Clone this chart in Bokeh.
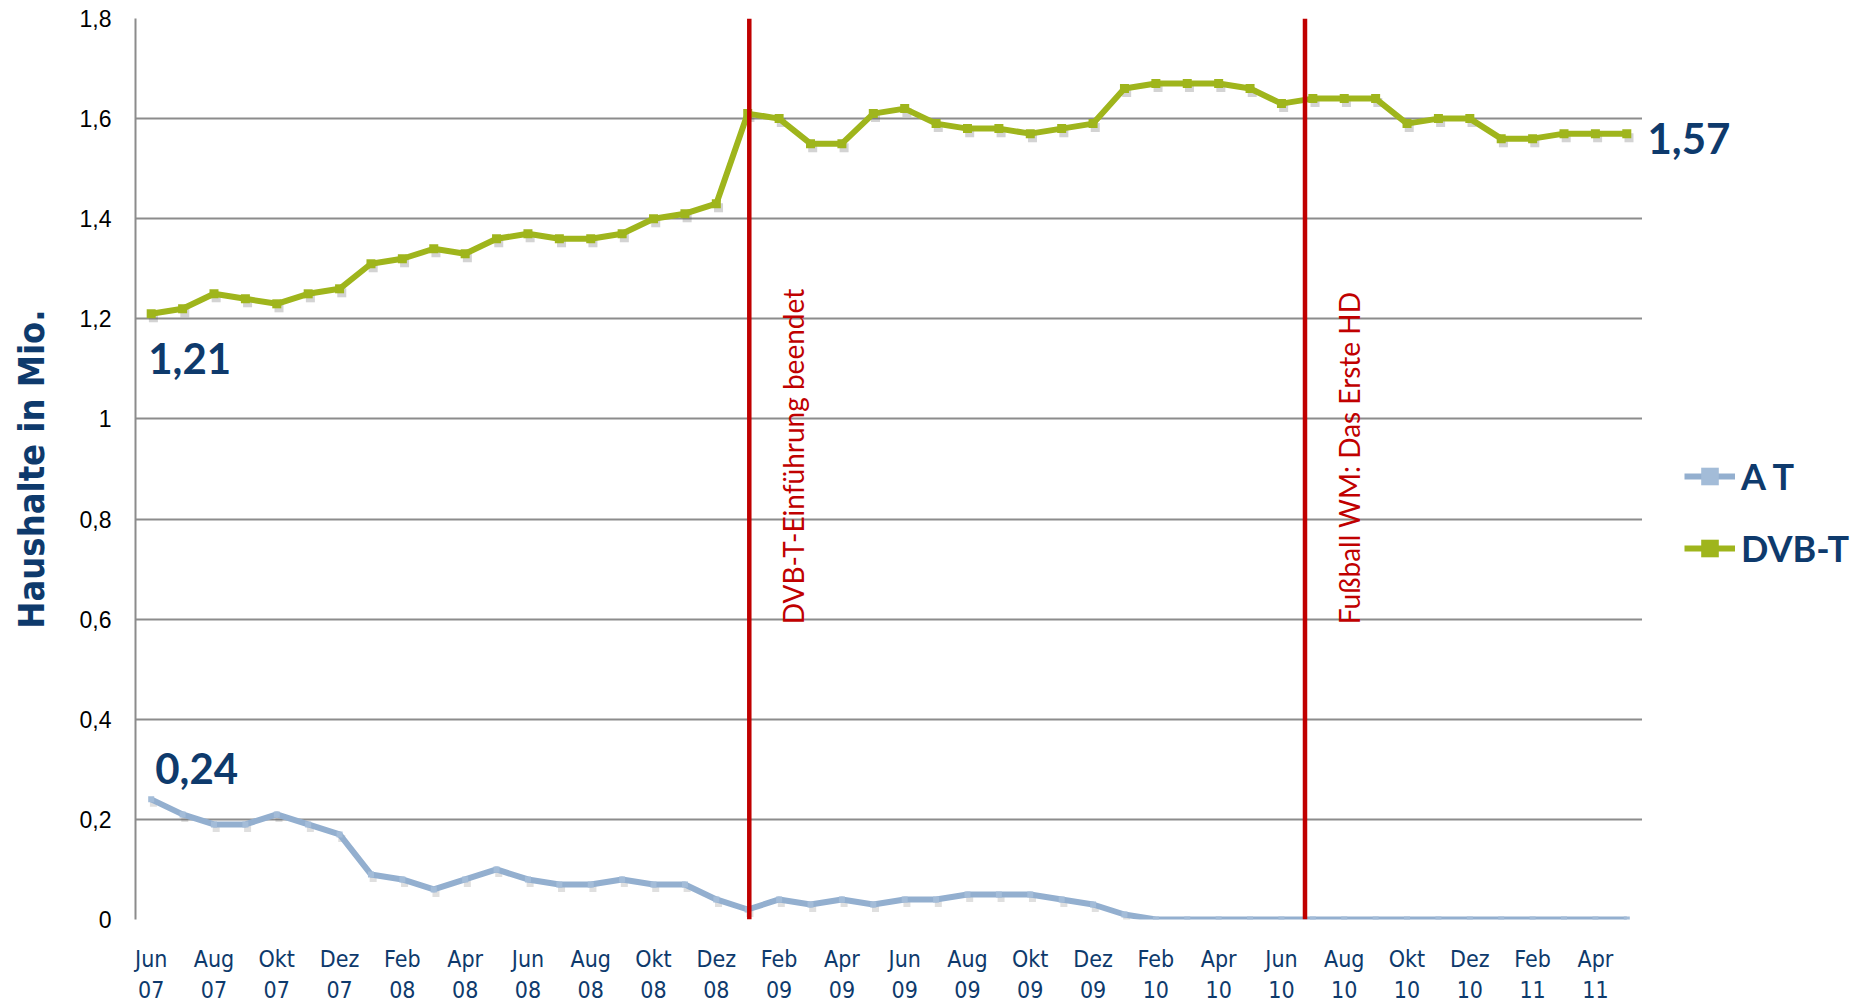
import math
from bokeh.plotting import figure
from bokeh.layouts import row
from bokeh.models import (Range1d, FixedTicker, Span, Label, Legend, LegendItem,
                          ColumnDataSource)
from bokeh.transform import dodge
from bokeh.embed import file_html
from bokeh.resources import INLINE

# ---------------- data ----------------
months = ["Jun 07", "Jul 07", "Aug 07", "Sep 07", "Okt 07", "Nov 07", "Dez 07",
          "Jan 08", "Feb 08", "Mär 08", "Apr 08", "Mai 08", "Jun 08", "Jul 08",
          "Aug 08", "Sep 08", "Okt 08", "Nov 08", "Dez 08",
          "Jan 09", "Feb 09", "Mär 09", "Apr 09", "Mai 09", "Jun 09", "Jul 09",
          "Aug 09", "Sep 09", "Okt 09", "Nov 09", "Dez 09",
          "Jan 10", "Feb 10", "Mär 10", "Apr 10", "Mai 10", "Jun 10", "Jul 10",
          "Aug 10", "Sep 10", "Okt 10", "Nov 10", "Dez 10",
          "Jan 11", "Feb 11", "Mär 11", "Apr 11", "Mai 11"]

dvbt = [1.21, 1.22, 1.25, 1.24, 1.23, 1.25, 1.26, 1.31, 1.32, 1.34, 1.33, 1.36,
        1.37, 1.36, 1.36, 1.37, 1.40, 1.41, 1.43, 1.61, 1.60, 1.55, 1.55, 1.61,
        1.62, 1.59, 1.58, 1.58, 1.57, 1.58, 1.59, 1.66, 1.67, 1.67, 1.67, 1.66,
        1.63, 1.64, 1.64, 1.64, 1.59, 1.60, 1.60, 1.56, 1.56, 1.57, 1.57, 1.57]

analog = [0.24, 0.21, 0.19, 0.19, 0.21, 0.19, 0.17, 0.09, 0.08, 0.06, 0.08, 0.10,
          0.08, 0.07, 0.07, 0.08, 0.07, 0.07, 0.04, 0.02, 0.04, 0.03, 0.04, 0.03,
          0.04, 0.04, 0.05, 0.05, 0.05, 0.04, 0.03, 0.01, 0.00, 0.00, 0.00, 0.00,
          0.00, 0.00, 0.00, 0.00, 0.00, 0.00, 0.00, 0.00, 0.00, 0.00, 0.00, 0.00]

series_names = ["A T", "DVB-T"]

y_ticks = [0, 0.2, 0.4, 0.6, 0.8, 1.0, 1.2, 1.4, 1.6, 1.8]
y_tick_labels = ["0", "0,2", "0,4", "0,6", "0,8", "1", "1,2", "1,4", "1,6", "1,8"]

event_texts = ["DVB-T-Einführung beendet", "Fußball WM: Das Erste HD"]
event_pos = [19.05, 36.75]   # month index

value_texts = ["1,21", "0,24", "1,57"]

# ---------------- styling ----------------
GREEN = "#9FB51C"
BLUE = "#93AFCF"
RED = "#C00000"
NAVY = "#0E3A6C"
GRID = "#8C8C8C"
NARROW = "'Liberation Sans Narrow', 'DejaVu Sans Condensed', sans-serif"
BOLDF = "Lato"

x = list(range(len(months)))
src = ColumnDataSource(dict(x=x, dvbt=dvbt, analog=analog))

TOP, FH, BOTTOM = 18, 901, 80
LEFT, FW, RIGHTW = 135, 1507, 224

p = figure(frame_width=FW, frame_height=FH,
           min_border_left=LEFT, min_border_right=0,
           min_border_top=TOP, min_border_bottom=BOTTOM,
           x_range=Range1d(-0.5, len(months) - 0.5), y_range=Range1d(0, 1.8),
           output_backend="svg", toolbar_location=None,
           background_fill_color="white", border_fill_color="white")
p.outline_line_color = None

# axes
p.yaxis.ticker = FixedTicker(ticks=y_ticks)
p.yaxis.major_label_overrides = {t: l for t, l in zip(y_ticks, y_tick_labels)}
p.yaxis.major_label_text_font = "Liberation Sans"
p.yaxis.major_label_text_font_size = "23px"
p.yaxis.major_label_text_color = "black"
p.yaxis.major_label_standoff = 18
p.yaxis.major_tick_line_color = None
p.yaxis.minor_tick_line_color = None
p.yaxis.axis_line_color = GRID
p.yaxis.axis_line_width = 2
p.yaxis.axis_label = "Haushalte in Mio."
p.yaxis.axis_label_text_font = NARROW
p.yaxis.axis_label_text_font_style = "bold"
p.yaxis.axis_label_text_font_size = "36px"
p.yaxis.axis_label_text_color = NAVY
p.yaxis.axis_label_standoff = 25

x_ticks = x[::2]
p.xaxis.ticker = FixedTicker(ticks=x_ticks)
p.xaxis.major_label_overrides = {i: months[i].replace(" ", "\n") for i in x_ticks}
p.xaxis.major_label_text_font = NARROW
p.xaxis.major_label_text_font_size = "23px"
p.xaxis.major_label_text_color = NAVY
p.xaxis.major_label_standoff = 20
p.xaxis.major_tick_line_color = None
p.xaxis.minor_tick_line_color = None
p.xaxis.axis_line_color = None

p.xgrid.grid_line_color = None
p.ygrid.ticker = FixedTicker(ticks=y_ticks)
p.ygrid.grid_line_color = GRID
p.ygrid.grid_line_width = 2

# event lines
for pos, txt in zip(event_pos, event_texts):
    p.add_layout(Span(location=pos, dimension="height", line_color=RED, line_width=4.5))
    p.add_layout(Label(x=pos, y=0.59, x_offset=44, text=txt, angle=math.pi / 2,
                       text_align="left", text_baseline="middle",
                       text_font=BOLDF, text_font_size="28px", text_color=RED))

# marker shadows
p.scatter(x=dodge("x", 0.07, range=p.x_range), y=dodge("analog", -0.008, range=p.y_range),
          source=src, marker="square", size=7, fill_color="#606060", fill_alpha=0.2,
          line_color=None)
p.scatter(x=dodge("x", 0.07, range=p.x_range), y=dodge("dvbt", -0.008, range=p.y_range),
          source=src, marker="square", size=9, fill_color="#606060", fill_alpha=0.28,
          line_color=None)

# series
p.line("x", "analog", source=src, line_color=BLUE, line_width=6)
p.scatter("x", "analog", source=src, marker="square", size=6, fill_color="#A3BCD8",
          line_color=None)
p.line("x", "dvbt", source=src, line_color=GREEN, line_width=6)
p.scatter("x", "dvbt", source=src, marker="square", size=9, fill_color=GREEN,
          line_color=None)

# value labels inside the plot area
p.add_layout(Label(x=x[0], y=dvbt[0], y_offset=-45, x_offset=-3, text=value_texts[0],
                   text_font=BOLDF, text_font_style="bold", text_font_size="42px",
                   text_color=NAVY, text_baseline="alphabetic"))
p.add_layout(Label(x=x[0], y=analog[0], y_offset=31, x_offset=4, text=value_texts[1],
                   text_font=BOLDF, text_font_style="bold", text_font_size="42px",
                   text_color=NAVY, text_baseline="alphabetic"))

# ---------------- right side panel (end label + legend) ----------------
p2 = figure(frame_width=RIGHTW, frame_height=FH,
            min_border_left=0, min_border_right=0,
            min_border_top=TOP, min_border_bottom=BOTTOM,
            x_range=Range1d(0, RIGHTW), y_range=p.y_range,
            x_axis_type=None, y_axis_type=None,
            output_backend="svg", toolbar_location=None,
            background_fill_color="white", border_fill_color="white")
p2.outline_line_color = None
p2.xgrid.grid_line_color = None
p2.ygrid.grid_line_color = None

p2.add_layout(Label(x=5, y=dvbt[-1], y_offset=-5, text=value_texts[2],
                    text_font=BOLDF, text_font_style="bold", text_font_size="42px",
                    text_color=NAVY, text_baseline="alphabetic"))

nan = float("nan")
lg_at_l = p2.line([nan], [nan], line_color=BLUE, line_width=6)
lg_at_s = p2.scatter([nan], [nan], marker="square", size=5, fill_color="#A3BCD8",
                     line_color=None)
lg_dv_l = p2.line([nan], [nan], line_color=GREEN, line_width=6)
lg_dv_s = p2.scatter([nan], [nan], marker="square", size=9, fill_color=GREEN,
                     line_color=None)

legend = Legend(items=[LegendItem(label=series_names[0], renderers=[lg_at_l, lg_at_s]),
                       LegendItem(label=series_names[1], renderers=[lg_dv_l, lg_dv_s])],
                location=(42, 349), orientation="vertical",
                label_text_font=BOLDF, label_text_font_style="bold",
                label_text_font_size="36px", label_text_color=NAVY,
                glyph_width=51, glyph_height=44, label_height=44,
                label_standoff=6, spacing=28, padding=0, margin=0,
                border_line_color=None, background_fill_alpha=0)
p2.add_layout(legend, "center")

layout = row(p, p2)
open("out.html", "w").write(file_html(layout, INLINE))
